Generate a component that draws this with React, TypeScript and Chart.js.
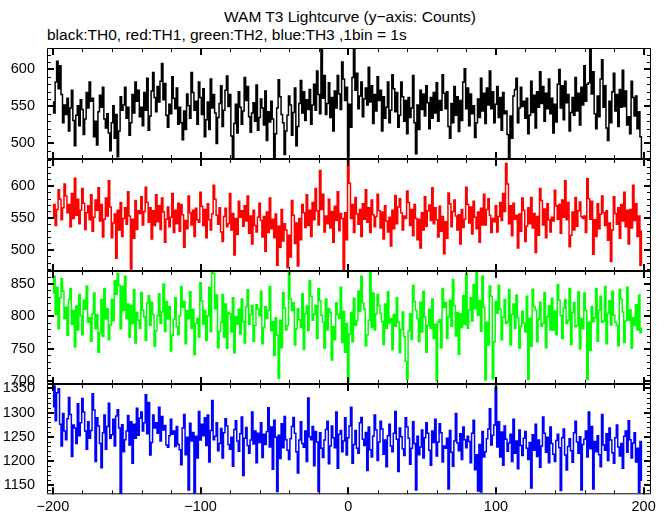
import React, { useEffect, useRef } from "react";
import { Chart, registerables } from "chart.js";

Chart.register(...registerables);

// ---------- data ----------
const TITLE = "WAM T3 Lightcurve (y\u2212axis: Counts)";
const SUBTITLE = "black:TH0, red:TH1, green:TH2, blue:TH3 ,1bin = 1s";

const X_START = -200; // first bin (s)
const BIN = 1; // 1 bin = 1 s
const X_TICKS = [-200, -100, 0, 100, 200];

const TH0 = [
  556, 541, 583, 611, 574, 605, 566, 528, 552, 539, 561, 517, 548, 572, 531, 497, 538, 551, 524, 559,
  546, 512, 533, 569, 548, 583, 557, 561, 509, 530, 498, 543, 565, 549, 576, 533, 521, 540, 514, 490,
  528, 551, 507, 539, 482, 517, 563, 545, 552, 576, 534, 549, 511, 528, 566, 541, 583, 557, 572, 536,
  549, 524, 569, 545, 588, 518, 537, 571, 596, 562, 543, 577, 556, 584, 608, 559, 581, 538, 522, 553,
  540, 590, 561, 547, 575, 526, 549, 528, 505, 544, 519, 567, 551, 534, 596, 569, 545, 557, 526, 583,
  562, 539, 574, 509, 532, 556, 519, 587, 548, 566, 541, 500, 535, 554, 578, 523, 545, 572, 591, 550,
  566, 510, 481, 527, 553, 514, 570, 549, 526, 544, 589, 558, 577, 536, 515, 541, 555, 530, 579, 518,
  535, 560, 548, 525, 571, 504, 543, 529, 557, 533, 481, 513, 548, 586, 563, 539, 528, 485, 517, 538,
  564, 552, 511, 542, 575, 497, 523, 554, 585, 541, 570, 531, 559, 546, 573, 526, 552, 580, 545, 598,
  566, 540, 627, 561, 592, 539, 554, 582, 535, 562, 517, 571, 548, 592, 567, 546, 610, 587, 558, 576,
  482, 553, 522, 589, 627, 572, 595, 547, 564, 583, 536, 560, 575, 552, 603, 556, 578, 527, 566, 544,
  590, 558, 572, 517, 563, 534, 549, 583, 528, 545, 593, 574, 543, 569, 522, 538, 583, 563, 530, 558,
  513, 562, 535, 548, 592, 528, 486, 552, 519, 572, 546, 567, 537, 578, 555, 520, 562, 534, 569, 541,
  582, 530, 558, 545, 593, 568, 547, 570, 523, 507, 554, 528, 577, 538, 563, 516, 558, 531, 583, 601,
  547, 575, 524, 567, 540, 551, 508, 528, 560, 535, 588, 544, 568, 527, 575, 552, 598, 547, 570, 528,
  553, 577, 535, 562, 518, 569, 540, 544, 512, 480, 537, 507, 564, 573, 588, 528, 548, 576, 550, 557,
  534, 561, 513, 538, 584, 542, 565, 521, 570, 549, 597, 554, 577, 530, 568, 547, 587, 540, 561, 514,
  553, 529, 580, 600, 548, 578, 532, 584, 555, 566, 517, 542, 562, 538, 589, 544, 568, 525, 576, 552,
  605, 557, 580, 582, 629, 567, 597, 540, 520, 564, 536, 587, 613, 549, 578, 521, 504, 557, 528, 570,
  595, 544, 566, 523, 573, 549, 599, 550, 571, 525, 536, 513, 584, 562, 537, 564, 520, 543, 509, 481,
];

const TH1 = [
  552, 571, 538, 563, 594, 579, 547, 566, 603, 584, 558, 571, 536, 588, 549, 612, 554, 579, 541, 562,
  596, 573, 532, 558, 569, 547, 586, 529, 551, 578, 562, 597, 545, 571, 520, 548, 581, 553, 608, 567,
  519, 542, 556, 487, 562, 531, 574, 521, 549, 566, 540, 591, 553, 470, 548, 518, 577, 532, 561, 557,
  583, 539, 560, 598, 574, 543, 566, 517, 561, 538, 586, 544, 569, 532, 581, 559, 512, 548, 567, 536,
  551, 588, 527, 562, 541, 573, 529, 571, 555, 504, 546, 533, 584, 558, 539, 562, 521, 565, 547, 543,
  590, 568, 538, 563, 519, 572, 547, 531, 556, 601, 579, 554, 540, 566, 528, 513, 552, 565, 536, 541,
  588, 531, 557, 492, 549, 524, 576, 551, 561, 537, 569, 545, 584, 526, 553, 509, 562, 538, 528, 551,
  573, 546, 520, 552, 498, 559, 527, 581, 533, 548, 519, 556, 476, 537, 504, 563, 514, 541, 531, 472,
  523, 489, 577, 554, 510, 542, 475, 549, 516, 571, 558, 535, 586, 538, 562, 521, 574, 547, 596, 561,
  539, 624, 563, 587, 528, 553, 541, 579, 534, 560, 512, 568, 546, 591, 530, 557, 549, 467, 558, 516,
  642, 604, 549, 571, 527, 582, 556, 540, 563, 521, 572, 548, 594, 543, 566, 527, 578, 555, 536, 552,
  587, 561, 534, 559, 517, 569, 545, 528, 551, 506, 562, 533, 585, 541, 567, 580, 558, 531, 553, 549,
  592, 574, 538, 563, 522, 571, 549, 516, 548, 503, 558, 531, 583, 537, 561, 570, 546, 597, 541, 566,
  547, 520, 568, 529, 552, 494, 544, 518, 589, 572, 536, 560, 578, 553, 531, 555, 509, 563, 535, 548,
  598, 571, 542, 567, 525, 576, 551, 533, 559, 512, 565, 539, 587, 539, 563, 580, 554, 527, 549, 544,
  569, 528, 552, 574, 546, 588, 560, 635, 603, 541, 569, 522, 573, 548, 554, 503, 556, 529, 581, 562,
  513, 537, 566, 541, 582, 534, 557, 496, 552, 523, 596, 577, 539, 564, 519, 572, 547, 528, 551, 545,
  593, 569, 548, 571, 526, 578, 551, 608, 547, 574, 505, 523, 559, 531, 582, 537, 561, 575, 552, 549,
  553, 527, 611, 580, 548, 576, 493, 547, 521, 572, 533, 556, 584, 558, 538, 561, 515, 542, 482, 531,
  583, 557, 540, 566, 518, 571, 545, 590, 536, 562, 509, 563, 534, 601, 546, 572, 521, 553, 476, 529,
];

const TH2 = [
  836, 862, 803, 845, 781, 829, 858, 839, 797, 814, 771, 826, 843, 788, 809, 753, 816, 779, 834, 801,
  772, 825, 811, 847, 791, 798, 762, 804, 836, 781, 803, 745, 775, 826, 769, 843, 796, 812, 764, 787,
  826, 793, 855, 834, 866, 848, 781, 846, 809, 862, 797, 819, 768, 817, 789, 841, 759, 806, 794, 782,
  837, 810, 799, 763, 821, 832, 786, 822, 803, 754, 778, 801, 835, 789, 807, 850, 777, 823, 796, 815,
  747, 771, 796, 829, 784, 772, 801, 846, 814, 823, 758, 809, 797, 838, 782, 811, 741, 789, 797, 768,
  852, 824, 788, 809, 763, 801, 845, 777, 870, 866, 812, 833, 752, 777, 791, 834, 768, 819, 751, 806,
  804, 776, 829, 744, 800, 788, 811, 773, 827, 792, 759, 815, 841, 788, 803, 817, 762, 786, 818, 811,
  801, 839, 758, 783, 815, 797, 809, 846, 778, 792, 740, 798, 771, 705, 794, 752, 837, 813, 779, 786,
  868, 827, 809, 821, 756, 781, 812, 795, 783, 835, 749, 804, 816, 778, 855, 831, 794, 803, 817, 766,
  843, 824, 802, 791, 751, 827, 779, 812, 806, 733, 784, 764, 821, 803, 797, 845, 760, 808, 745, 789,
  700, 773, 806, 761, 828, 786, 793, 839, 808, 862, 821, 811, 755, 772, 794, 869, 783, 836, 779, 804,
  834, 817, 805, 792, 757, 819, 782, 838, 790, 797, 749, 803, 785, 829, 791, 744, 780, 807, 769, 731,
  703, 778, 804, 765, 848, 823, 809, 797, 761, 822, 776, 839, 799, 745, 786, 811, 782, 827, 766, 788,
  701, 791, 795, 752, 843, 814, 822, 766, 799, 825, 785, 857, 817, 770, 806, 742, 804, 783, 832, 788,
  866, 782, 810, 829, 793, 849, 812, 870, 802, 824, 777, 862, 814, 702, 791, 756, 847, 831, 704, 761,
  823, 805, 848, 811, 764, 799, 826, 789, 792, 841, 756, 803, 819, 782, 833, 798, 751, 785, 808, 790,
  776, 831, 703, 797, 754, 842, 815, 810, 761, 796, 822, 785, 789, 837, 752, 800, 816, 779, 828, 779,
  808, 772, 849, 825, 801, 766, 813, 826, 789, 794, 843, 757, 806, 821, 784, 786, 838, 750, 797, 781,
  836, 809, 703, 791, 748, 815, 792, 798, 843, 762, 809, 831, 791, 793, 846, 758, 805, 824, 787, 839,
  802, 791, 786, 755, 842, 827, 807, 760, 793, 845, 794, 810, 751, 798, 786, 818, 779, 833, 775, 782,
];

const TH3 = [
  1312, 1355, 1283, 1341, 1349, 1276, 1231, 1298, 1262, 1244, 1287, 1331, 1296, 1209, 1274, 1268, 1236, 1318, 1252, 1279,
  1329, 1301, 1262, 1224, 1281, 1247, 1263, 1339, 1305, 1199, 1289, 1272, 1236, 1186, 1258, 1295, 1224, 1271, 1319, 1247,
  1254, 1286, 1231, 1293, 1306, 1268, 1132, 1275, 1219, 1244, 1262, 1294, 1233, 1281, 1195, 1276, 1247, 1309, 1253, 1288,
  1301, 1262, 1279, 1337, 1256, 1321, 1212, 1238, 1295, 1268, 1279, 1257, 1311, 1241, 1292, 1264, 1273, 1233, 1228, 1252,
  1286, 1255, 1262, 1230, 1271, 1234, 1223, 1192, 1268, 1296, 1213, 1249, 1140, 1278, 1241, 1259, 1134, 1251, 1206, 1302,
  1243, 1276, 1252, 1289, 1232, 1295, 1198, 1263, 1325, 1244, 1251, 1279, 1221, 1236, 1267, 1206, 1258, 1287, 1272, 1234,
  1224, 1249, 1189, 1265, 1283, 1241, 1220, 1256, 1291, 1170, 1247, 1269, 1232, 1216, 1243, 1301, 1235, 1262, 1196, 1257,
  1238, 1279, 1207, 1255, 1234, 1261, 1310, 1229, 1270, 1183, 1284, 1249, 1137, 1253, 1205, 1277, 1227, 1292, 1244, 1222,
  1203, 1246, 1271, 1290, 1257, 1219, 1175, 1243, 1281, 1236, 1228, 1262, 1199, 1330, 1250, 1244, 1271, 1190, 1261, 1239,
  1137, 1258, 1226, 1207, 1243, 1265, 1282, 1194, 1231, 1272, 1248, 1227, 1301, 1185, 1255, 1263, 1219, 1241, 1289, 1212,
  1248, 1272, 1311, 1195, 1234, 1263, 1226, 1216, 1279, 1290, 1245, 1232, 1259, 1180, 1270, 1223, 1208, 1251, 1295, 1264,
  1201, 1239, 1282, 1266, 1214, 1243, 1188, 1252, 1276, 1231, 1219, 1257, 1302, 1245, 1178, 1268, 1250, 1225, 1211, 1289,
  1270, 1247, 1193, 1226, 1281, 1236, 1140, 1251, 1213, 1229, 1264, 1206, 1248, 1279, 1257, 1222, 1191, 1262, 1238, 1286,
  1210, 1239, 1277, 1258, 1198, 1231, 1226, 1247, 1142, 1263, 1218, 1189, 1241, 1298, 1237, 1221, 1256, 1203, 1270, 1244,
  1227, 1251, 1240, 1196, 1257, 1284, 1182, 1213, 1138, 1234, 1136, 1261, 1208, 1219, 1246, 1266, 1308, 1233, 1253, 1274,
  1352, 1229, 1281, 1208, 1260, 1191, 1272, 1245, 1220, 1237, 1255, 1199, 1286, 1216, 1241, 1184, 1264, 1232, 1211, 1247,
  1261, 1226, 1203, 1238, 1144, 1254, 1222, 1276, 1209, 1243, 1187, 1231, 1291, 1257, 1218, 1249, 1196, 1270, 1236, 1214,
  1199, 1242, 1255, 1227, 1139, 1248, 1266, 1212, 1181, 1230, 1246, 1221, 1197, 1258, 1282, 1239, 1216, 1250, 1140, 1234,
  1245, 1262, 1208, 1301, 1225, 1271, 1142, 1240, 1219, 1252, 1213, 1188, 1296, 1233, 1222, 1256, 1201, 1268, 1243, 1217,
  1195, 1248, 1274, 1229, 1210, 1236, 1185, 1251, 1262, 1218, 1283, 1244, 1206, 1237, 1258, 1198, 1226, 1135, 1240, 1160,
];

const TH0_TICKS = [500, 550, 600];
const TH1_TICKS = [500, 550, 600];
const TH2_TICKS = [700, 750, 800, 850];
const TH3_TICKS = [1150, 1200, 1250, 1300, 1350];

const TH0_RANGE = [479, 629];
const TH1_RANGE = [467, 642];
const TH2_RANGE = [696, 870];
const TH3_RANGE = [1131, 1359];

// ---------- layout ----------
const W = 669;
const H = 515;
const PLOT_LEFT = 47;
const PLOT_RIGHT = 651;
const X_MIN = -204;
const X_MAX = 205;
const FONT = '"Liberation Sans", Arial, Helvetica, sans-serif';

type PanelCfg = {
  values: number[];
  ticks: number[];
  range: number[];
  color: string;
  top: number;
  bottom: number;
  last: boolean;
};

const PANELS: PanelCfg[] = [
  { values: TH0, ticks: TH0_TICKS, range: TH0_RANGE, color: "#000000", top: 48, bottom: 159, last: false },
  { values: TH1, ticks: TH1_TICKS, range: TH1_RANGE, color: "#ff0000", top: 159, bottom: 271, last: false },
  { values: TH2, ticks: TH2_TICKS, range: TH2_RANGE, color: "#00ff00", top: 271, bottom: 384, last: false },
  { values: TH3, ticks: TH3_TICKS, range: TH3_RANGE, color: "#0000ff", top: 384, bottom: 496, last: true },
];

const X_AXIS_H = 19;

const fmt = (v: number) => (v < 0 ? "\u2212" + Math.abs(v) : String(v));

const frameTicks = {
  id: "frameTicks",
  afterDraw(chart: any) {
    const { ctx, chartArea: a, scales } = chart;
    const xs = scales.x;
    const ys = scales.y;
    ctx.save();
    ctx.strokeStyle = "#000";
    ctx.lineWidth = 1;
    ctx.beginPath();
    ctx.moveTo(a.left + 0.5, a.top + 0.5);
    ctx.lineTo(a.right - 0.5, a.top + 0.5);
    ctx.lineTo(a.right - 0.5, a.bottom - 0.5);
    ctx.lineTo(a.left + 0.5, a.bottom - 0.5);
    ctx.closePath();
    ctx.stroke();
    // y ticks
    const ymin = ys.min;
    const ymax = ys.max;
    for (let v = Math.ceil(ymin / 10) * 10; v <= ymax; v += 10) {
      const major = v % 50 === 0;
      const len = major ? 7 : 4;
      ctx.lineWidth = major ? 2 : 1;
      const py = major ? Math.round(ys.getPixelForValue(v)) : Math.round(ys.getPixelForValue(v)) + 0.5;
      ctx.beginPath();
      ctx.moveTo(a.left, py);
      ctx.lineTo(a.left + len, py);
      ctx.moveTo(a.right, py);
      ctx.lineTo(a.right - len, py);
      ctx.stroke();
    }
    // x ticks
    for (let v = -200; v <= 200; v += 20) {
      const major = v % 100 === 0;
      const len = major ? 7 : 4;
      ctx.lineWidth = major ? 2 : 1;
      const px = major ? Math.round(xs.getPixelForValue(v)) : Math.round(xs.getPixelForValue(v)) + 0.5;
      ctx.beginPath();
      ctx.moveTo(px, a.bottom);
      ctx.lineTo(px, a.bottom - len);
      ctx.moveTo(px, a.top);
      ctx.lineTo(px, a.top + len);
      ctx.stroke();
    }
    ctx.restore();
  },
};

function Panel({ cfg }: { cfg: PanelCfg }) {
  const ref = useRef<HTMLCanvasElement | null>(null);
  useEffect(() => {
    if (!ref.current) return;
    const pts = cfg.values.map((v, i) => ({ x: X_START + i * BIN, y: v }));
    const chart = new Chart(ref.current, {
      type: "line",
      data: {
        datasets: [
          {
            data: pts,
            borderColor: cfg.color,
            borderWidth: 1.5,
            pointRadius: 0,
            stepped: "middle",
            fill: false,
          },
        ],
      },
      options: {
        animation: false,
        responsive: false,
        events: [],
        layout: {
          padding: {
            top: cfg.top,
            bottom: H - cfg.bottom - (cfg.last ? X_AXIS_H : 0),
            left: 0,
            right: W - PLOT_RIGHT,
          },
        },
        plugins: { legend: { display: false }, tooltip: { enabled: false }, title: { display: false } },
        scales: {
          x: {
            type: "linear",
            min: X_MIN,
            max: X_MAX,
            display: cfg.last,
            grid: { display: false, drawTicks: false },
            border: { display: false },
            afterBuildTicks: (s: any) => {
              s.ticks = X_TICKS.map((v) => ({ value: v }));
            },
            afterFit: (s: any) => {
              s.height = cfg.last ? X_AXIS_H : 0;
            },
            ticks: {
              autoSkip: false,
              maxRotation: 0,
              padding: 4,
              color: "#000",
              font: { family: FONT, size: 14.5 },
              callback: (v: any) => fmt(Number(v)),
            },
          },
          y: {
            type: "linear",
            min: cfg.range[0],
            max: cfg.range[1],
            grid: { display: false, drawTicks: false },
            border: { display: false },
            afterBuildTicks: (s: any) => {
              s.ticks = cfg.ticks.map((v) => ({ value: v }));
            },
            afterFit: (s: any) => {
              s.width = PLOT_LEFT;
            },
            ticks: {
              autoSkip: false,
              padding: 12,
              color: "#000",
              font: { family: FONT, size: 14.5 },
              callback: (v: any) => fmt(Number(v)),
            },
          },
        },
      },
      plugins: [frameTicks],
    } as any);
    return () => chart.destroy();
  }, [cfg]);
  return (
    <canvas
      ref={ref}
      width={W}
      height={H}
      style={{ position: "absolute", left: 0, top: 0, width: W, height: H }}
    />
  );
}

export default function App() {
  return (
    <div
      style={{
        position: "absolute",
        left: 0,
        top: 0,
        width: W,
        height: H,
        background: "#fff",
        overflow: "hidden",
        fontFamily: FONT,
        color: "#000",
      }}
    >
      <div
        style={{
          position: "absolute",
          left: 350,
          top: 8,
          transform: "translateX(-50%)",
          whiteSpace: "nowrap",
          fontSize: 15.5,
          lineHeight: "18px",
        }}
      >
        {TITLE}
      </div>
      <div
        style={{
          position: "absolute",
          left: 47,
          top: 26,
          whiteSpace: "nowrap",
          fontSize: 15.5,
          lineHeight: "18px",
        }}
      >
        {SUBTITLE}
      </div>
      {PANELS.map((p, i) => (
        <Panel key={i} cfg={p} />
      ))}
    </div>
  );
}
